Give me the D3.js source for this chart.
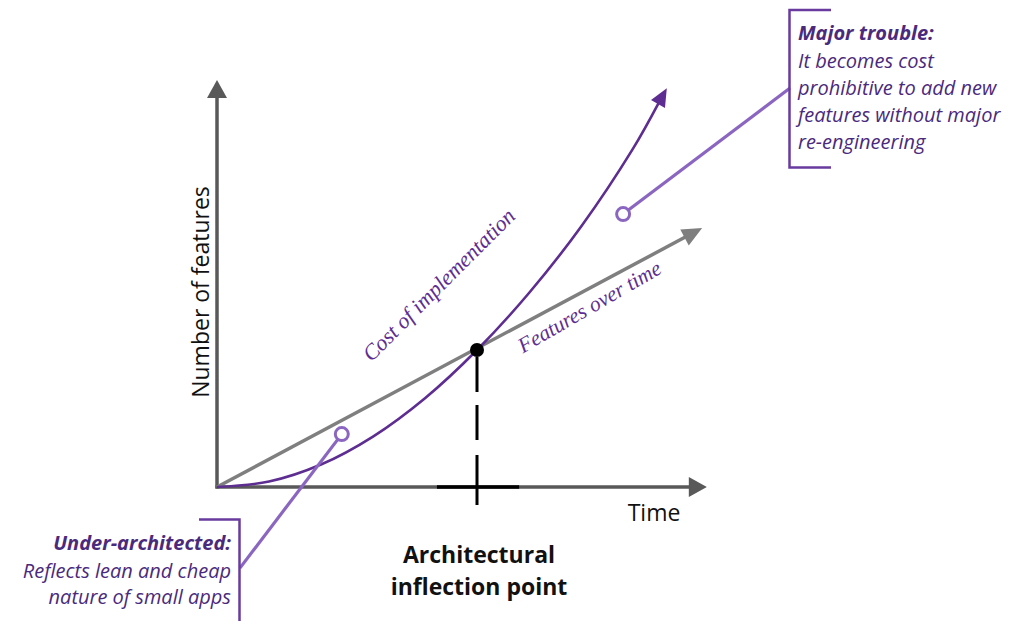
<!DOCTYPE html>
<html><head><meta charset="utf-8">
<script src="https://cdn.jsdelivr.net/npm/d3@7"></script>
<style>body{margin:0;background:#fff}svg{display:block}</style>
</head><body>
<svg id="c" width="1020" height="621"></svg>
<script>
// ---- data ----
const featuresT = [0, 9.33];
const featuresV = [0, 9.45];
const costT = [0, 1, 2, 3, 4, 5, 6, 7, 8, 8.65];
const costV = [0, 0.2, 0.82, 1.84, 3.24, 5, 7.08, 9.5, 12.35, 14.55];
const inflection = [5, 5];
const axisEnds = [9.42, 14.85];
const labels = {x: "Time", y: "Number of features", cost: "Cost of implementation", feat: "Features over time"};
const inflectionLabel = ["Architectural", "inflection point"];
const underTitle = "Under-architected:";
const underLines = ["Reflects lean and cheap", "nature of small apps"];
const majorTitle = "Major trouble:";
const majorLines = ["It becomes cost", "prohibitive to add new", "features without major", "re-engineering"];
const underPoint = [2.4, 1.93], underAnchor = [0.44, -2.96];
const majorPoint = [7.81, 9.96], majorAnchor = [11.02, 14.56];

// ---- scales ----
const x = d3.scaleLinear().domain([0, 10]).range([217, 737]);
const y = d3.scaleLinear().domain([0, 15]).range([487, 76]);
const svg = d3.select("#c");

const purple = "#5e2d91", lav = "#8b66c1", dark = "#4a2a7c";

function arrowHead(g, x0, y0, x1, y1, len, wid, color) {
  const a = Math.atan2(y1 - y0, x1 - x0);
  const bx = x1 - len * Math.cos(a), by = y1 - len * Math.sin(a);
  const px = -Math.sin(a) * wid / 2, py = Math.cos(a) * wid / 2;
  g.append("path").attr("d", `M${x1},${y1}L${bx+px},${by+py}L${bx-px},${by-py}Z`).attr("fill", color);
  return [x1 - (len-2) * Math.cos(a), y1 - (len-2) * Math.sin(a)];
}

// axes
const axG = svg.append("g");
const ox = x(0), oy = y(0);
let e = arrowHead(axG, ox, oy, x(axisEnds[0]), oy, 18, 20, "#595959");
axG.append("line").attr("x1", ox - 1.5).attr("y1", oy).attr("x2", e[0]).attr("y2", oy).attr("stroke", "#595959").attr("stroke-width", 3.5);
e = arrowHead(axG, ox, oy, ox, y(axisEnds[1]), 18, 20, "#595959");
axG.append("line").attr("x1", ox).attr("y1", oy + 1.5).attr("x2", ox).attr("y2", e[1]).attr("stroke", "#595959").attr("stroke-width", 3.5);

// tick + dashed
svg.append("line").attr("x1", x(4.23)).attr("x2", x(5.81)).attr("y1", oy).attr("y2", oy).attr("stroke", "#000").attr("stroke-width", 3.5);
svg.append("line").attr("x1", x(inflection[0])).attr("x2", x(inflection[0])).attr("y1", y(inflection[1]) + 7).attr("y2", y(-0.66))
  .attr("stroke", "#000").attr("stroke-width", 3).attr("stroke-dasharray", "35,13,35,15,60");

// features line
const fg = svg.append("g");
const fx1 = x(featuresT[1]), fy1 = y(featuresV[1]);
e = arrowHead(fg, x(featuresT[0]), y(featuresV[0]), fx1, fy1, 20, 18, "#7f7f7f");
fg.insert("line", "path").attr("x1", x(featuresT[0])).attr("y1", y(featuresV[0])).attr("x2", e[0]).attr("y2", e[1]).attr("stroke", "#7f7f7f").attr("stroke-width", 3.5);

// cost curve
const cg = svg.append("g");
const pts = costT.map((t, i) => [x(t), y(costV[i])]);
const n = pts.length;
const tip = pts[n - 1], prev = pts[n - 2];
const ah = arrowHead(cg, prev[0], prev[1], tip[0], tip[1], 18, 16, purple);
const linePts = pts.slice(0, n - 1).concat([ah]);
cg.insert("path", "path").attr("d", d3.line().curve(d3.curveCatmullRom.alpha(0.5))(linePts)).attr("fill", "none").attr("stroke", purple).attr("stroke-width", 2.6);

// inflection dot
svg.append("circle").attr("cx", x(inflection[0])).attr("cy", y(inflection[1])).attr("r", 7).attr("fill", "#000");

// callouts
function callout(pt, anchor) {
  svg.append("line").attr("x1", x(pt[0])).attr("y1", y(pt[1])).attr("x2", x(anchor[0])).attr("y2", y(anchor[1])).attr("stroke", lav).attr("stroke-width", 3.2);
  svg.append("circle").attr("cx", x(pt[0])).attr("cy", y(pt[1])).attr("r", 6.5).attr("fill", "#fff").attr("stroke", lav).attr("stroke-width", 3);
}
callout(underPoint, underAnchor);
callout(majorPoint, majorAnchor);

// brackets
svg.append("path").attr("d", "M199,519.5H239.5V622").attr("fill", "none").attr("stroke", "#6a3b9e").attr("stroke-width", 2.5);
svg.append("path").attr("d", "M831,10H789.5V167.5H831").attr("fill", "none").attr("stroke", "#6a3b9e").attr("stroke-width", 2.5);

const sans = "'Open Sans', Lato, sans-serif";
// callout texts
const ut = svg.append("g").attr("font-family", sans).attr("font-style", "italic").attr("font-size", 20).attr("fill", dark).attr("text-anchor", "end");
ut.append("text").attr("x", 231).attr("y", 550).attr("font-weight", "bold").text(underTitle);
underLines.forEach((s, i) => ut.append("text").attr("x", 231).attr("y", 578 + i * 26).text(s));

const mt = svg.append("g").attr("font-family", sans).attr("font-style", "italic").attr("font-size", 20).attr("fill", dark);
mt.append("text").attr("x", 798).attr("y", 40).attr("font-weight", "bold").text(majorTitle);
majorLines.forEach((s, i) => mt.append("text").attr("x", 798).attr("y", 68 + i * 27).text(s));

// axis labels
svg.append("text").attr("x", 654).attr("y", 521).attr("text-anchor", "middle").attr("font-family", sans).attr("font-size", 23).attr("fill", "#111").text(labels.x);
svg.append("text").attr("transform", "translate(209,292) rotate(-90)").attr("text-anchor", "middle").attr("font-family", sans).attr("font-size", 23).attr("fill", "#111").text(labels.y);
inflectionLabel.forEach((s, i) => svg.append("text").attr("x", 479).attr("y", 563 + i * 32).attr("text-anchor", "middle").attr("font-family", sans).attr("font-weight", "bold").attr("font-size", 23).attr("fill", "#111").text(s));

// rotated series labels
const serif = "'Liberation Serif', 'DejaVu Serif', serif";
svg.append("text").attr("transform", "translate(444,290) rotate(-45)").attr("text-anchor", "middle").attr("font-family", serif).attr("font-style", "italic").attr("font-size", 22).attr("fill", purple).text(labels.cost);
svg.append("text").attr("transform", "translate(593,313) rotate(-30)").attr("text-anchor", "middle").attr("font-family", serif).attr("font-style", "italic").attr("font-size", 21.5).attr("fill", purple).text(labels.feat);
</script>
</body></html>
